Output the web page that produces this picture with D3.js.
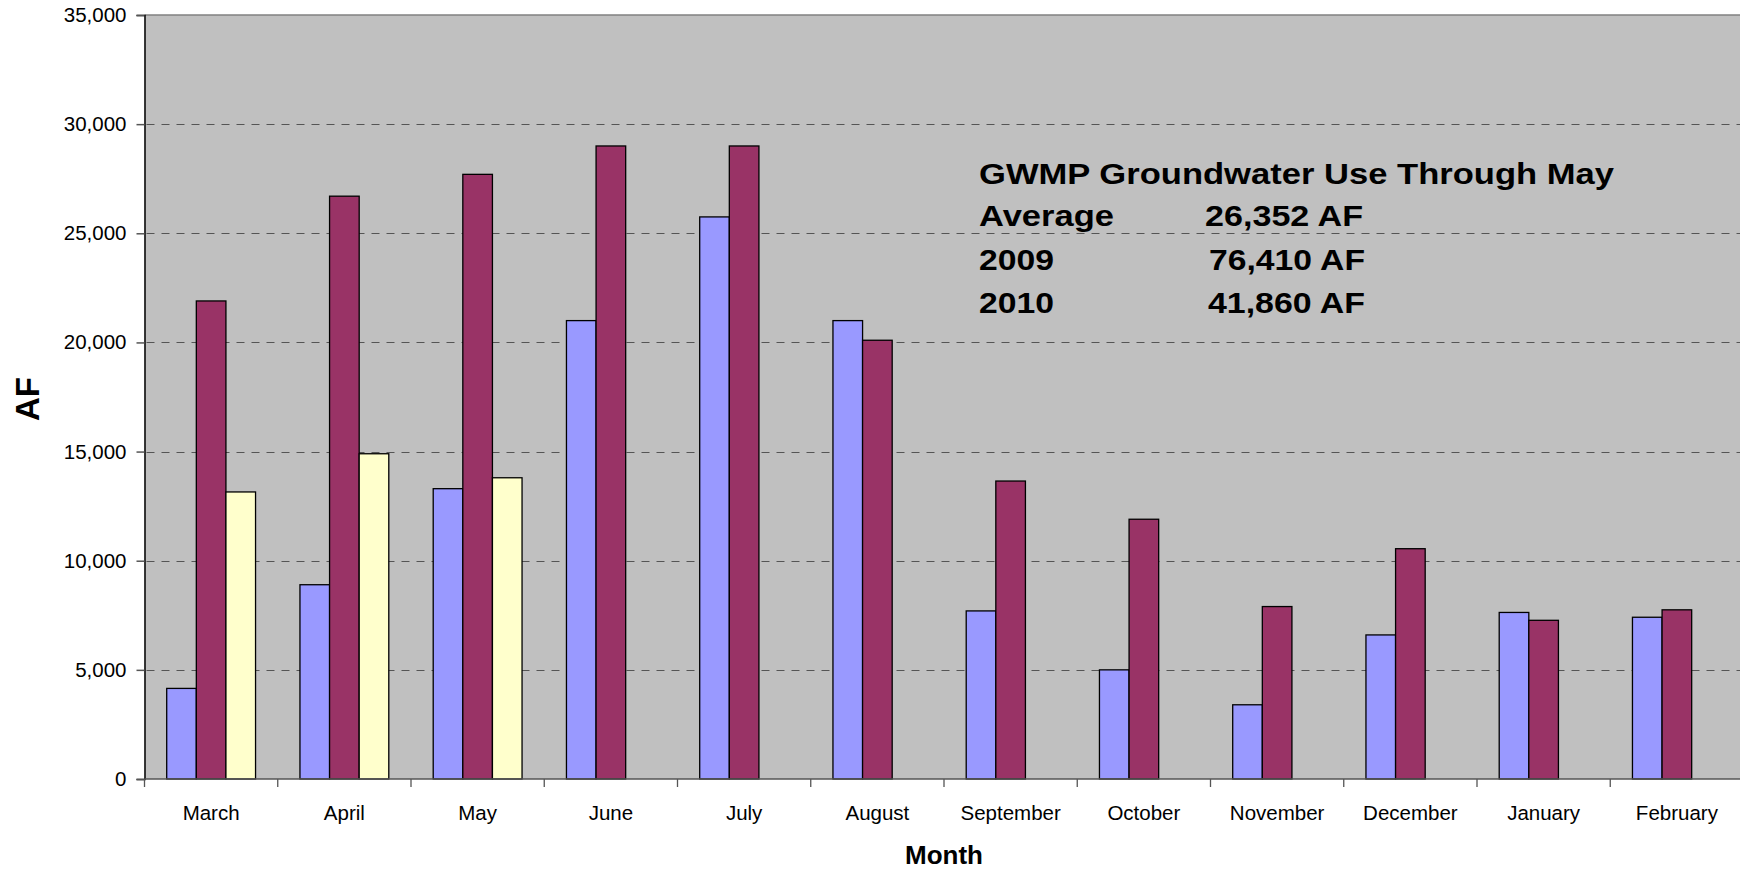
<!DOCTYPE html>
<html>
<head>
<meta charset="utf-8">
<script src="https://cdn.jsdelivr.net/npm/d3@7"></script>
<style>
  html, body { margin: 0; padding: 0; background: #ffffff; }
  svg { display: block; font-family: "Liberation Sans", Arial, sans-serif; }
</style>
</head>
<body>
<svg id="chart" width="1740" height="870"></svg>
<script>
// ---- data ----
const months = ["March", "April", "May", "June", "July", "August", "September", "October", "November", "December", "January", "February"];
const seriesNames = ["Average", "2009", "2010"];
const avgValues  = [4150, 8900, 13300, 21000, 25750, 21000, 7700, 5000, 3400, 6600, 7630, 7410];
const y2009Values = [21900, 26700, 27700, 29000, 29000, 20100, 13650, 11900, 7900, 10550, 7270, 7750];
const y2010Values = [13150, 14900, 13800, null, null, null, null, null, null, null, null, null];
const yTicks = [0, 5000, 10000, 15000, 20000, 25000, 30000, 35000];
const noteTitle = "GWMP Groundwater Use Through May";
const noteLabels = ["Average", "2009", "2010"];
const noteValues = ["26,352 AF", "76,410 AF", "41,860 AF"];

const seriesValues = [avgValues, y2009Values, y2010Values];
const colors = ["#9999FF", "#993366", "#FFFFCC"];

const svg = d3.select("#chart");
const mLeft = 144.5, mRight = 1743.5, mTop = 15, mBottom = 779;

const x0 = d3.scaleBand().domain(months).range([mLeft, mRight]).paddingInner(0).paddingOuter(0);
const x1 = d3.scaleBand().domain(seriesNames).range([0, x0.bandwidth()]).paddingInner(0).paddingOuter(0.75);
const y = d3.scaleLinear().domain([0, 35000]).range([mBottom, mTop]);

// plot background
svg.append("rect").attr("x", mLeft).attr("y", mTop).attr("width", mRight - mLeft).attr("height", mBottom - mTop)
  .attr("fill", "#C0C0C0");
// top border
svg.append("line").attr("x1", mLeft).attr("x2", mRight).attr("y1", mTop).attr("y2", mTop)
  .attr("stroke", "#808080").attr("stroke-width", 1.5);

// gridlines
svg.append("g").selectAll("line").data(yTicks.filter(t => t > 0 && t < 35000)).join("line")
  .attr("x1", mLeft + 1).attr("x2", mRight)
  .attr("y1", d => Math.round(y(d)) + 0.5).attr("y2", d => Math.round(y(d)) + 0.5)
  .attr("stroke", "#555555").attr("stroke-width", 1.2)
  .attr("stroke-dasharray", "8,7").attr("stroke-dashoffset", -1);

// bars
const rows = [];
months.forEach((m, i) => {
  seriesNames.forEach((s, j) => {
    const v = seriesValues[j][i];
    if (v != null) rows.push({ month: m, series: s, value: v, color: colors[j] });
  });
});
svg.append("g").selectAll("rect").data(rows).join("rect")
  .attr("x", d => x0(d.month) + x1(d.series))
  .attr("y", d => y(d.value))
  .attr("width", x1.bandwidth())
  .attr("height", d => y(0) - y(d.value))
  .attr("fill", d => d.color)
  .attr("stroke", "#000000").attr("stroke-width", 1.3);

// y axis
const yAxis = svg.append("g").attr("transform", `translate(${mLeft},0)`)
  .call(d3.axisLeft(y).tickValues(yTicks).tickFormat(d3.format(",")).tickSize(8).tickPadding(10));
yAxis.select(".domain").attr("stroke", "#000000").attr("stroke-width", 1.5);
yAxis.selectAll(".tick line").attr("stroke", "#555555").attr("stroke-width", 1.5);
yAxis.selectAll("text").attr("font-size", 20.5).attr("fill", "#000000")
  .attr("font-family", "'Liberation Sans', Arial, sans-serif");

// x axis
const xAxisG = svg.append("g");
xAxisG.append("line").attr("x1", mLeft).attr("x2", mRight).attr("y1", mBottom).attr("y2", mBottom)
  .attr("stroke", "#555555").attr("stroke-width", 1.5);
const boundaries = months.map(m => x0(m)).concat([mRight]);
xAxisG.selectAll("line.tk").data(boundaries).join("line").attr("class", "tk")
  .attr("x1", d => d).attr("x2", d => d).attr("y1", mBottom).attr("y2", mBottom + 8)
  .attr("stroke", "#555555").attr("stroke-width", 1.3);
xAxisG.selectAll("text").data(months).join("text")
  .attr("x", d => x0(d) + x0.bandwidth() / 2).attr("y", 820)
  .attr("text-anchor", "middle").attr("font-size", 20.5).attr("fill", "#000")
  .text(d => d);

// axis titles
svg.append("text").attr("x", 944).attr("y", 864).attr("text-anchor", "middle")
  .attr("font-size", 26).attr("font-weight", "bold").text("Month");
svg.append("text").attr("transform", "translate(39,399) rotate(-90)").attr("text-anchor", "middle")
  .attr("font-size", 33).attr("font-weight", "bold").text("AF");

// annotation
const note = svg.append("g").attr("font-weight", "bold").attr("font-size", 29).attr("fill", "#000");
note.append("text").attr("x", 979).attr("y", 184).attr("textLength", 635).attr("lengthAdjust", "spacingAndGlyphs").text(noteTitle);
const noteY = [226, 270, 312.5];
const noteValX = [1205, 1209, 1208];
const noteValW = [158, 156, 157];
const labelW = [135, 75, 75];
noteLabels.forEach((l, i) => {
  note.append("text").attr("x", 979).attr("y", noteY[i]).attr("textLength", labelW[i]).attr("lengthAdjust", "spacingAndGlyphs").text(l);
  note.append("text").attr("x", noteValX[i]).attr("y", noteY[i]).attr("textLength", noteValW[i]).attr("lengthAdjust", "spacingAndGlyphs").text(noteValues[i]);
});
</script>
</body>
</html>
